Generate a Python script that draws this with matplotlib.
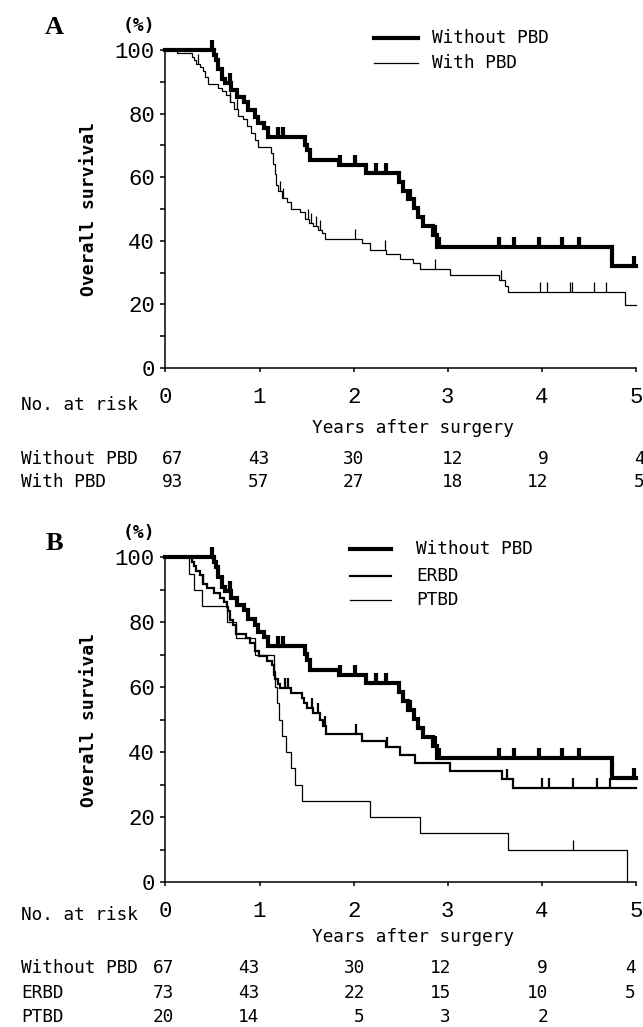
import numpy as np
import matplotlib
matplotlib.use("Agg")
import matplotlib.pyplot as plt
from matplotlib.lines import Line2D
from matplotlib.ticker import MultipleLocator
from matplotlib.transforms import blended_transform_factory

W, H = 643, 1027
MONO = ["DejaVu Sans Mono", "Liberation Mono"]
TICKFONT = ["Liberation Mono", "DejaVu Sans Mono"]
plt.rcParams["font.family"] = MONO

# Kaplan-Meier curves (years, % surviving after each event)
wo_t = [0.52, 0.54, 0.56, 0.60, 0.63, 0.70, 0.76, 0.84, 0.88, 0.95, 0.98, 1.05, 1.09,
        1.48, 1.50, 1.54, 1.84, 2.13, 2.48, 2.53, 2.58, 2.64, 2.68, 2.74, 2.84, 2.89, 4.75]
wo_s = [98.5, 97.0, 94.0, 91.0, 89.5, 87.4, 85.3, 83.7, 81.1, 79.0, 76.9, 75.4, 72.7,
        70.2, 68.4, 65.4, 63.8, 61.2, 58.6, 55.8, 53.0, 50.2, 47.4, 44.6, 41.8, 38.2, 32.0]
wo_cens = [0.49, 0.69, 1.20, 1.25, 1.86, 2.02, 2.24, 2.34, 2.60, 2.86, 2.91,
           3.54, 3.70, 3.97, 4.21, 4.40, 4.98]

with_t = [0.12, 0.28, 0.30, 0.33, 0.37, 0.40, 0.42, 0.45, 0.56, 0.60, 0.64, 0.69, 0.73,
          0.77, 0.82, 0.87, 0.91, 0.95, 0.98, 1.12, 1.14, 1.16, 1.18, 1.20, 1.24, 1.29,
          1.33, 1.43, 1.48, 1.53, 1.57, 1.62, 1.66, 1.70, 2.09, 2.17, 2.34, 2.49, 2.63,
          2.71, 3.02, 3.55, 3.61, 3.64, 4.88]
with_s = [98.9, 97.8, 96.8, 95.7, 94.6, 93.5, 91.4, 89.2, 88.1, 87.0, 85.9, 83.7, 81.6,
          79.4, 78.3, 76.1, 74.0, 71.8, 69.6, 67.5, 64.2, 61.0, 57.7, 55.6, 53.4, 52.3,
          50.1, 49.0, 46.8, 45.7, 44.6, 43.5, 42.3, 40.5, 39.2, 37.1, 35.8, 34.3, 32.9,
          31.0, 29.2, 27.7, 25.8, 24.0, 19.8]
with_cens = [0.35, 0.69, 0.76, 1.22, 1.25, 1.52, 1.55, 1.60, 1.64, 2.02, 2.33, 2.86,
             3.57, 3.98, 4.06, 4.30, 4.32, 4.55, 4.68]

erbd_t = [0.28, 0.30, 0.33, 0.37, 0.40, 0.44, 0.52, 0.58, 0.62, 0.65, 0.67, 0.69, 0.72,
          0.75, 0.86, 0.90, 0.95, 0.99, 1.08, 1.13, 1.15, 1.17, 1.20, 1.22, 1.33, 1.45,
          1.47, 1.50, 1.57, 1.64, 1.68, 1.71, 2.09, 2.34, 2.49, 2.65, 3.02, 3.58, 3.69]
erbd_s = [98.6, 97.3, 95.9, 94.5, 91.8, 90.4, 89.0, 87.6, 86.2, 84.8, 83.4, 80.6, 79.2,
          76.5, 75.1, 73.7, 71.0, 69.6, 68.2, 66.8, 63.9, 62.5, 61.1, 59.7, 58.3, 56.8,
          55.2, 53.6, 51.9, 50.0, 48.0, 45.7, 43.5, 41.6, 39.1, 36.5, 34.2, 31.7, 28.9]
erbd_cens = [0.40, 1.27, 1.30, 1.56, 1.62, 1.70, 2.03, 2.35, 3.63, 4.00, 4.08, 4.33,
             4.59, 4.72]

ptbd_t = [0.25, 0.30, 0.39, 0.65, 0.75, 0.95, 1.15, 1.17, 1.19, 1.21, 1.24, 1.28, 1.33,
          1.38, 1.45, 2.17, 2.71, 3.64, 4.91]
ptbd_s = [95, 90, 85, 80, 75, 70, 65, 60, 55, 50, 45, 40, 35, 30, 25, 20, 15, 10, 0]
ptbd_cens = [4.33]

# number at risk table
years = [0, 1, 2, 3, 4, 5]
risk_a_without = [67, 43, 30, 12, 9, 4]
risk_a_with = [93, 57, 27, 18, 12, 5]
risk_b_without = [67, 43, 30, 12, 9, 4]
risk_b_erbd = [73, 43, 22, 15, 10, 5]
risk_b_ptbd = [20, 14, 5, 3, 2]


def surv_at(times, surv, t):
    i = np.searchsorted(times, t, side="right")
    return 100.0 if i == 0 else surv[i - 1]


def draw_km(ax, times, surv, cens, lw, mew, end=5.0):
    x = [0.0] + list(times) + [end]
    y = [100.0] + list(surv) + [surv[-1]]
    ax.step(x, y, where="post", color="black", lw=lw, clip_on=False,
            solid_joinstyle="miter")
    cy = [surv_at(times, surv, c) for c in cens]
    ax.plot(cens, cy, ls="none", marker=2, ms=7, mew=mew, color="black", clip_on=False)


def ftext(x, y, s, **kw):
    return fig.text(x / W, 1 - y / H, s, **kw)


def fline(x0, x1, y, lw):
    fig.add_artist(Line2D([x0 / W, x1 / W], [1 - y / H, 1 - y / H], lw=lw,
                          color="black", transform=fig.transFigure))


def setup_axes(ax):
    ax.set_xlim(0, 5)
    ax.set_ylim(0, 100)
    for s in ["top", "right"]:
        ax.spines[s].set_visible(False)
    for s in ["left", "bottom"]:
        ax.spines[s].set_linewidth(1.1)
    ax.set_xticks(years)
    ax.set_yticks(range(0, 101, 20))
    ax.yaxis.set_minor_locator(MultipleLocator(10))
    ax.tick_params(axis="x", direction="out", length=3, width=1.1, pad=11)
    ax.tick_params(axis="y", which="both", direction="out", length=3.5, width=1.1, pad=4)
    for lab in ax.get_xticklabels() + ax.get_yticklabels():
        lab.set_family(TICKFONT)
        lab.set_fontsize(16)
    ax.set_ylabel("Overall survival", fontsize=13, fontweight="bold", labelpad=12)


def risk_row(ax, y, label, counts, offsets):
    tr = blended_transform_factory(ax.transData, fig.transFigure)
    ftext(21, y, label, fontsize=12.8, va="center", ha="left")
    for i, n in enumerate(counts):
        ax.text(years[i] + offsets[i], 1 - y / H, str(n), transform=tr, fontsize=12.8,
                va="center", ha="right", clip_on=False)


fig = plt.figure(figsize=(W / 100, H / 100), dpi=100)

# Panel A
axA = fig.add_axes([165.4 / W, 1 - 368 / H, 470.5 / W, 318 / H])
setup_axes(axA)
draw_km(axA, with_t, with_s, with_cens, lw=0.9, mew=0.9)
draw_km(axA, wo_t, wo_s, wo_cens, lw=3.0, mew=3.0)
ftext(54, 27, "A", fontsize=19, fontweight="bold", family="Liberation Serif",
      ha="center", va="center")
ftext(139, 26, "(%)", fontsize=13, fontweight="bold", ha="center", va="center")
fline(374, 418, 38, 3.0)
fline(374, 418, 63, 0.9)
ftext(432, 38, "Without PBD", fontsize=12.8, va="center")
ftext(432, 63, "With PBD", fontsize=12.8, va="center")
ftext(21, 405, "No. at risk", fontsize=12.8, va="center")
ftext(413, 428, "Years after surgery", fontsize=12.8, va="center", ha="center")
offs_a = [0.19, 0.10, 0.11, 0.16, 0.07, 0.09]
risk_row(axA, 459, "Without PBD", risk_a_without, offs_a)
risk_row(axA, 482, "With PBD", risk_a_with, offs_a)

# Panel B
axB = fig.add_axes([165.4 / W, 1 - 882 / H, 470.5 / W, 324.7 / H])
setup_axes(axB)
draw_km(axB, ptbd_t, ptbd_s, ptbd_cens, lw=0.9, mew=0.9, end=4.91)
draw_km(axB, erbd_t, erbd_s, erbd_cens, lw=1.6, mew=1.6)
draw_km(axB, wo_t, wo_s, wo_cens, lw=3.0, mew=3.0)
ftext(54, 543, "B", fontsize=19, fontweight="bold", family="Liberation Serif",
      ha="center", va="center")
ftext(139, 533, "(%)", fontsize=13, fontweight="bold", ha="center", va="center")
fline(350, 391, 549, 3.0)
fline(350, 391, 576, 1.6)
fline(350, 391, 600, 0.9)
ftext(416, 549, "Without PBD", fontsize=12.8, va="center")
ftext(416, 576, "ERBD", fontsize=12.8, va="center")
ftext(416, 600, "PTBD", fontsize=12.8, va="center")
ftext(21, 915, "No. at risk", fontsize=12.8, va="center")
ftext(413, 937, "Years after surgery", fontsize=12.8, va="center", ha="center")
offs_b = [0.09, 0.0, 0.12, 0.035, 0.065, 0.0]
risk_row(axB, 968, "Without PBD", risk_b_without, offs_b)
risk_row(axB, 993, "ERBD", risk_b_erbd, offs_b)
risk_row(axB, 1017, "PTBD", risk_b_ptbd, offs_b)

fig.savefig("out.png", dpi=100, facecolor="white")
